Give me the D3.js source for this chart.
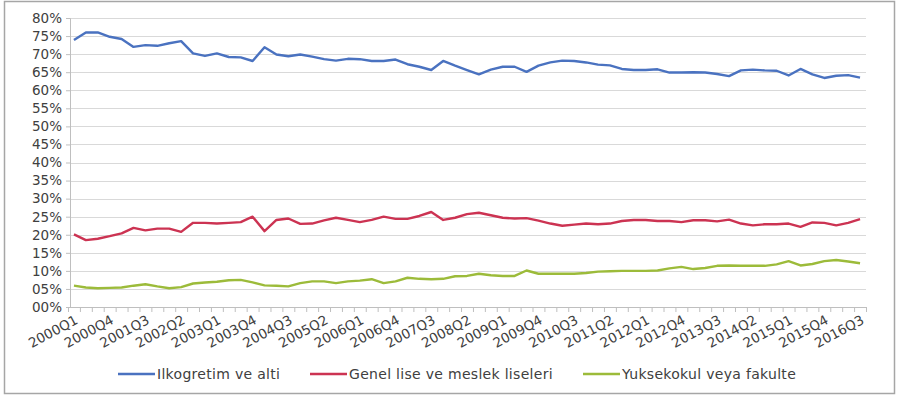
<!DOCTYPE html>
<html>
<head>
<meta charset="utf-8">
<script src="https://cdn.jsdelivr.net/npm/d3@7/dist/d3.min.js"></script>
<style>
  html, body { margin: 0; padding: 0; background: #fff; }
  svg { display: block; }
  text { font-family: "DejaVu Sans", sans-serif; fill: #404040; }
</style>
</head>
<body>
<svg id="chart" width="900" height="395"></svg>
<script>
// Quarterly periods 2000Q1 .. 2016Q3
const quarters = [];
for (let y = 2000; y <= 2016; y++) {
  for (let q = 1; q <= 4; q++) {
    if (y === 2016 && q > 3) break;
    quarters.push(y + "Q" + q);
  }
}

// Shares by education level (%)
const ilkogretim = [
  73.9, 76.0, 76.0, 74.8, 74.2, 72.0, 72.5, 72.3, 73.0, 73.6,
  70.2, 69.5, 70.2, 69.2, 69.1, 68.1, 71.9, 69.9, 69.4, 69.9,
  69.3, 68.6, 68.2, 68.7, 68.6, 68.1, 68.1, 68.5, 67.2, 66.5,
  65.6, 68.1, 66.8, 65.6, 64.4, 65.7, 66.5, 66.5, 65.1, 66.8,
  67.7, 68.2, 68.1, 67.7, 67.1, 66.9, 65.9, 65.6, 65.6, 65.8,
  64.9, 64.9, 65.0, 64.9, 64.5, 63.9, 65.5, 65.7, 65.5, 65.4,
  64.1, 65.9, 64.4, 63.4, 64.0, 64.2, 63.5
];
const genelLise = [
  20.1, 18.5, 18.9, 19.6, 20.4, 21.9, 21.2, 21.7, 21.7, 20.8,
  23.3, 23.3, 23.1, 23.3, 23.5, 25.0, 21.0, 24.1, 24.5, 23.0,
  23.1, 24.0, 24.7, 24.1, 23.5, 24.1, 25.0, 24.4, 24.4, 25.2,
  26.3, 24.1, 24.7, 25.7, 26.1, 25.4, 24.7, 24.5, 24.6, 23.9,
  23.1, 22.5, 22.8, 23.1, 22.9, 23.1, 23.8, 24.1, 24.1, 23.8,
  23.8, 23.5, 24.0, 24.0, 23.7, 24.2, 23.1, 22.6, 22.9, 22.9,
  23.1, 22.2, 23.4, 23.3, 22.6, 23.3, 24.3
];
const yuksekokul = [
  5.9, 5.4, 5.2, 5.3, 5.4, 5.9, 6.3, 5.7, 5.2, 5.5,
  6.5, 6.8, 7.0, 7.4, 7.5, 6.8, 6.0, 5.9, 5.7, 6.6,
  7.1, 7.1, 6.6, 7.1, 7.3, 7.7, 6.6, 7.1, 8.1, 7.8,
  7.7, 7.8, 8.5, 8.6, 9.2, 8.8, 8.6, 8.6, 10.1, 9.2,
  9.2, 9.2, 9.2, 9.4, 9.8, 9.9, 10.0, 10.0, 10.0, 10.1,
  10.7, 11.1, 10.5, 10.8, 11.4, 11.5, 11.4, 11.4, 11.4, 11.8,
  12.7, 11.5, 11.9, 12.7, 13.0, 12.6, 12.1
];

const seriesNames = ["Ilkogretim ve alti", "Genel lise ve meslek liseleri", "Yuksekokul veya fakulte"];
const seriesColors = ["#4a72c0", "#cc3352", "#9cbb3a"];
const yTicks = [0, 5, 10, 15, 20, 25, 30, 35, 40, 45, 50, 55, 60, 65, 70, 75, 80];

const series = [ilkogretim, genelLise, yuksekokul];

const svg = d3.select("#chart");

// Outer frame
svg.append("rect")
  .attr("x", 4.5).attr("y", 1.5)
  .attr("width", 890).attr("height", 392)
  .attr("fill", "#fff")
  .attr("stroke", "#a6a6a6").attr("stroke-width", 1.5);

const plot = { left: 68, right: 866, top: 18, bottom: 307 };

const x = d3.scaleBand()
  .domain(quarters)
  .range([plot.left, plot.right])
  .padding(0);

const y = d3.scaleLinear()
  .domain([0, 80])
  .range([plot.bottom, plot.top]);

// Horizontal gridlines
svg.append("g")
  .selectAll("line")
  .data(yTicks)
  .join("line")
  .attr("x1", plot.left + 2).attr("x2", plot.right)
  .attr("y1", d => Math.round(y(d)) + 0.5)
  .attr("y2", d => Math.round(y(d)) + 0.5)
  .attr("stroke", "#d9d9d9").attr("stroke-width", 1.2);

// Y axis
const yAxis = d3.axisLeft(y)
  .tickValues(yTicks)
  .tickSize(4)
  .tickPadding(4)
  .tickFormat(d => d3.format("02d")(d) + "%");

const yg = svg.append("g")
  .attr("transform", `translate(${plot.left + 2},0)`)
  .call(yAxis);
yg.select(".domain").attr("stroke", "#bfbfbf");
yg.selectAll(".tick line").attr("stroke", "#bfbfbf");
yg.selectAll(".tick text")
  .attr("font-size", 13.5)
  .attr("fill", "#404040")
  .style("font-family", "DejaVu Sans, sans-serif");

// X axis line and category boundary ticks
const xg = svg.append("g").attr("transform", `translate(0,${plot.bottom})`);
xg.append("line")
  .attr("x1", plot.left + 2).attr("x2", plot.right)
  .attr("y1", 0.5).attr("y2", 0.5)
  .attr("stroke", "#bfbfbf");
xg.selectAll("line.tk")
  .data(quarters.concat(["end"]))
  .join("line")
  .attr("class", "tk")
  .attr("x1", (d, i) => plot.left + i * x.bandwidth() + 0.5)
  .attr("x2", (d, i) => plot.left + i * x.bandwidth() + 0.5)
  .attr("y1", 0).attr("y2", 5)
  .attr("stroke", "#bfbfbf");

// Rotated quarter labels, every third period
xg.selectAll("text")
  .data(quarters.filter((d, i) => i % 3 === 0))
  .join("text")
  .attr("text-anchor", "end")
  .attr("font-size", 13.5)
  .attr("transform", d => `translate(${x(d) + x.bandwidth() / 2 + 5},${16}) rotate(-28)`)
  .text(d => d);

// Series lines
const line = d3.line()
  .x((d, i) => x(quarters[i]) + x.bandwidth() / 2)
  .y(d => y(d));

svg.append("g")
  .selectAll("path")
  .data(series)
  .join("path")
  .attr("fill", "none")
  .attr("stroke", (d, i) => seriesColors[i])
  .attr("stroke-width", 2.4)
  .attr("stroke-linejoin", "round")
  .attr("d", line);

// Legend
const legendX = [118, 310, 583];
const lg = svg.append("g").attr("transform", "translate(0,374)");
seriesNames.forEach((name, i) => {
  lg.append("line")
    .attr("x1", legendX[i]).attr("x2", legendX[i] + 37)
    .attr("y1", 0).attr("y2", 0)
    .attr("stroke", seriesColors[i]).attr("stroke-width", 2.4);
  lg.append("text")
    .attr("x", legendX[i] + 39)
    .attr("y", 5)
    .attr("font-size", 14)
    .attr("letter-spacing", 0.3)
    .text(name);
});
</script>
</body>
</html>
